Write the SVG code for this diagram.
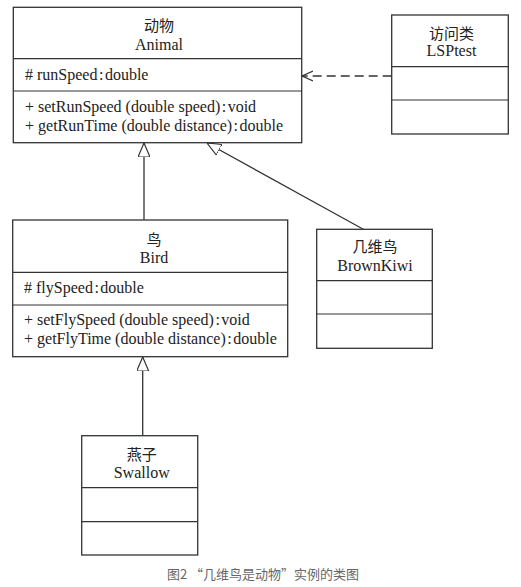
<svg xmlns="http://www.w3.org/2000/svg" width="521" height="587" viewBox="0 0 521 587">
<style>
.box{fill:#fff;stroke:#333;stroke-width:1.3}
.sep{stroke:#333;stroke-width:1.2}
.t{font-family:"Liberation Serif","Noto Sans CJK SC",serif;font-size:16px;fill:#222}
.c{text-anchor:middle}
.zh{font-family:"Noto Sans CJK SC",sans-serif;font-size:15px;fill:#222;text-anchor:middle}
.ln{stroke:#333;stroke-width:1.3;fill:none}
.cap{font-family:"Noto Sans CJK SC",sans-serif;font-size:13px;fill:#666;text-anchor:middle}
</style>
<defs>
<marker id="tri" viewBox="0 0 14 12" refX="14" refY="6" markerWidth="14" markerHeight="12" markerUnits="userSpaceOnUse" orient="auto">
<path d="M0,0 L14,6 L0,12 Z" fill="#fff" stroke="#333" stroke-width="1.2"/>
</marker>
<marker id="open" viewBox="0 0 12 12" refX="11" refY="6" markerWidth="12" markerHeight="12" markerUnits="userSpaceOnUse" orient="auto">
<path d="M0,1 L11,6 L0,11" fill="none" stroke="#333" stroke-width="1.2"/>
</marker>
</defs>
<g id="connectors">
<line class="ln" x1="144" y1="220" x2="144" y2="143" marker-end="url(#tri)"/>
<line class="ln" x1="363.3" y1="229.3" x2="207" y2="143" marker-end="url(#tri)"/>
<line class="ln" x1="142.7" y1="435.7" x2="142.7" y2="357" marker-end="url(#tri)"/>
<line class="ln" x1="391.7" y1="76" x2="302" y2="76" stroke-dasharray="9,5" marker-end="url(#open)"/>
</g>
<g id="animal">
<rect class="box" x="13.3" y="7.3" width="288.4" height="135.4"/>
<line class="sep" x1="13.3" y1="58.7" x2="301.7" y2="58.7"/>
<line class="sep" x1="13.3" y1="91" x2="301.7" y2="91"/>
<text class="zh" x="159" y="31">动物</text>
<text class="t c" x="159" y="50">Animal</text>
<text class="t" x="25" y="80"># runSpeed<tspan dx="1.5">:</tspan><tspan dx="1.5">double</tspan></text>
<text class="t" x="25" y="111.5">+ setRunSpeed (double speed)<tspan dx="1.5">:</tspan><tspan dx="1.5">void</tspan></text>
<text class="t" x="25" y="131">+ getRunTime (double distance)<tspan dx="1.5">:</tspan><tspan dx="1.5">double</tspan></text>
</g>
<g id="lsptest">
<rect class="box" x="391.7" y="15" width="116.6" height="119"/>
<line class="sep" x1="391.7" y1="66.7" x2="508.3" y2="66.7"/>
<line class="sep" x1="391.7" y1="100" x2="508.3" y2="100"/>
<text class="zh" x="451.5" y="38.5">访问类</text>
<text class="t c" x="451.5" y="56">LSPtest</text>
</g>
<g id="bird">
<rect class="box" x="12.7" y="220" width="275" height="136.7"/>
<line class="sep" x1="12.7" y1="272.3" x2="287.7" y2="272.3"/>
<line class="sep" x1="12.7" y1="305" x2="287.7" y2="305"/>
<text class="zh" x="154" y="244.5">鸟</text>
<text class="t c" x="154" y="263.3">Bird</text>
<text class="t" x="24" y="293.3"># flySpeed<tspan dx="1.5">:</tspan><tspan dx="1.5">double</tspan></text>
<text class="t" x="24" y="325">+ setFlySpeed (double speed)<tspan dx="1.5">:</tspan><tspan dx="1.5">void</tspan></text>
<text class="t" x="24" y="344">+ getFlyTime (double distance)<tspan dx="1.5">:</tspan><tspan dx="1.5">double</tspan></text>
</g>
<g id="brownkiwi">
<rect class="box" x="316.7" y="229.3" width="115.6" height="119"/>
<line class="sep" x1="316.7" y1="280.7" x2="432.3" y2="280.7"/>
<line class="sep" x1="316.7" y1="314" x2="432.3" y2="314"/>
<text class="zh" x="375" y="252">几维鸟</text>
<text class="t c" x="375" y="271">BrownKiwi</text>
</g>
<g id="swallow">
<rect class="box" x="81.7" y="435.7" width="116" height="119.3"/>
<line class="sep" x1="81.7" y1="487.7" x2="197.7" y2="487.7"/>
<line class="sep" x1="81.7" y1="521.7" x2="197.7" y2="521.7"/>
<text class="zh" x="141.7" y="460">燕子</text>
<text class="t c" x="141.7" y="478.3">Swallow</text>
</g>
<text class="cap" x="263" y="578.5">图2 “几维鸟是动物”实例的类图</text>
</svg>
